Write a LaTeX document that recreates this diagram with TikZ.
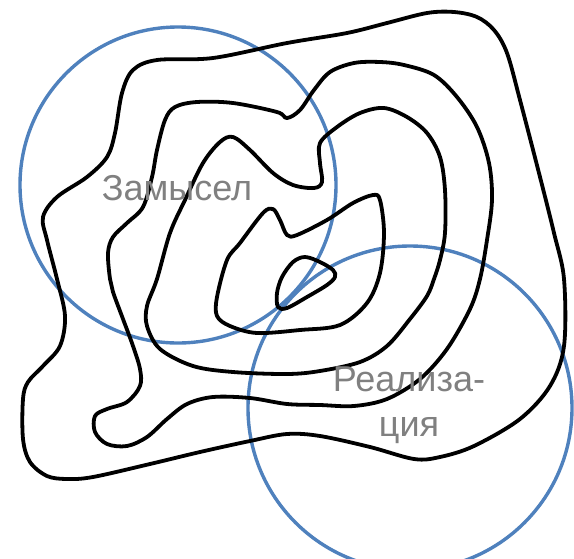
\documentclass[tikz,border=0pt]{standalone}
\usepackage{fontspec}
\setmainfont{Liberation Sans}
\usepackage{xcolor}
\definecolor{zoneblue}{HTML}{4F81BD}
\definecolor{labelgray}{HTML}{808080}

\begin{document}
\begin{tikzpicture}[x=1pt, y=-1pt,
      zone/.style={draw=zoneblue, line width=3.4pt},
      contour/.style={draw=black, line width=3.8pt, line join=round},
      label/.style={text=labelgray, align=center, font=\fontsize{36}{45}\selectfont, inner sep=0pt},
    ]
    \useasboundingbox (0,0) rectangle (574,558);

    \draw[zone] (178,185) circle[radius=158];
    \draw[zone] (410,408) circle[radius=162];

    \draw[contour] plot[smooth cycle, tension=0.55] coordinates {
      (287,43) (213,58) (157,60) (133,70) (122,93) (115,133) (107,157) (87,177)
      (57,197) (43,217) (47,240) (57,279) (65,316) (60,346) (43,366) (28,382)
      (23,399) (23,439) (30,462) (47,476) (67,479) (93,477) (150,464) (200,452)
      (250,441) (287,434) (320,436) (370,447) (414,459) (440,457) (474,446)
      (520,419) (550,386) (564,346) (564,279) (554,233) (540,177) (520,100)
      (507,53) (494,30) (477,17) (454,12) (427,13) (387,23) (347,33)};

    \draw[contour] plot[smooth cycle, tension=0.55] coordinates {
      (287,118) (300,110) (314,90) (330,72) (354,63) (380,62) (404,65) (434,75)
      (457,97) (477,127) (489,163) (492,200) (487,240) (480,279) (470,309)
      (447,349) (420,379) (387,399) (354,406) (320,405) (287,404) (250,398)
      (213,397) (187,404) (167,419) (147,437) (127,446) (107,444) (95,432)
      (95,416) (107,409) (127,402) (140,386) (140,369) (133,346) (123,319)
      (113,292) (110,279) (108,253) (113,237) (127,223) (143,207) (152,177)
      (157,150) (165,120) (175,107) (197,102) (233,103) (277,112)};

    \draw[contour] plot[smooth cycle, tension=0.55] coordinates {
      (233,137) (250,150) (273,173) (293,185) (314,188) (322,182) (320,163)
      (320,143) (337,127) (360,113) (384,108) (407,117) (427,133) (440,157)
      (445,190) (445,233) (440,260) (434,279) (427,296) (410,319) (387,346)
      (360,362) (320,371) (287,374) (233,372) (193,366) (160,349) (147,326)
      (147,306) (157,279) (170,233) (185,200) (203,163) (220,142)};

    \draw[contour] plot[smooth cycle, tension=0.55] coordinates {
      (217,297) (227,260) (240,243) (263,213) (273,209) (280,220) (287,235)
      (297,235) (327,220) (353,203) (373,195) (380,200) (384,233) (380,273)
      (367,303) (340,325) (300,330) (257,333) (230,326) (217,316)};

    \draw[contour] plot[smooth cycle, tension=0.55] coordinates {
      (278,307) (277,293) (282,277) (293,262) (305,257) (320,262) (333,270)
      (335,277) (327,285) (307,297) (287,308)};

    \node[label] (idea) at (177,188) {Замысел};
    \node[label] (real) at (409,405) {Реализа-\\ция};
  \end{tikzpicture}
\end{document}
